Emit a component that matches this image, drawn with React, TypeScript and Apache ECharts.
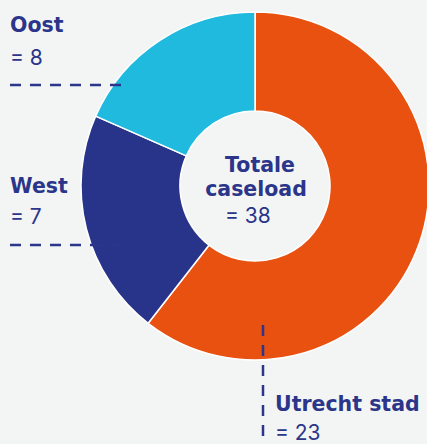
import React, { useEffect, useRef } from "react";
import * as echarts from "echarts";

// Slices as drawn in the reference, clockwise from 12 o'clock
const sliceNames = ["Utrecht stad", "West", "Oost"];
const sliceValues = [23, 8, 7];
const sliceColors = ["#e95110", "#28348a", "#1fbade"];

// Labels as printed in the reference
const labelNames = ["Oost", "West", "Utrecht stad"];
const labelValues = [8, 7, 23];
const totalTitle = ["Totale", "caseload"];
const totalValue = 38;

const NAVY = "#2b358a";
const BG = "#f3f5f4";
const BOLD_FONT = "700 20.5px 'DejaVu Sans', sans-serif";
const REG_FONT = "400 21px Inter, 'Noto Sans', sans-serif";

export default function App() {
  const ref = useRef<HTMLDivElement>(null);
  useEffect(() => {
    document.body.style.margin = "0";
    document.body.style.background = BG;
    const chart = echarts.init(ref.current!, null, { renderer: "svg" });
    const bold = (text: string, x: number, y: number, align = "left") => ({
      type: "text",
      x,
      y,
      z: 10,
      style: { text, fill: NAVY, font: BOLD_FONT, align, verticalAlign: "middle" },
    });
    const reg = (text: string, x: number, y: number, align = "left") => ({
      type: "text",
      x,
      y,
      z: 10,
      style: { text, fill: NAVY, font: REG_FONT, align, verticalAlign: "middle" },
    });
    const dash = (x1: number, y1: number, x2: number, y2: number) => ({
      type: "line",
      z: 10,
      shape: { x1, y1, x2, y2 },
      style: { stroke: NAVY, lineWidth: 2.5, lineDash: [11, 9] },
    });
    chart.setOption({
      animation: false,
      backgroundColor: BG,
      series: [
        {
          type: "pie",
          center: [255, 186],
          radius: [75, 174],
          startAngle: 90,
          clockwise: true,
          label: { show: false },
          labelLine: { show: false },
          emphasis: { disabled: true },
          silent: true,
          itemStyle: { borderColor: "#ffffff", borderWidth: 1.5 },
          data: sliceNames.map((n, i) => ({
            name: n,
            value: sliceValues[i],
            itemStyle: { color: sliceColors[i] },
          })),
        },
      ],
      graphic: [
        bold(labelNames[0], 10, 25),
        reg(`= ${labelValues[0]}`, 10, 57),
        dash(10, 85, 128, 85),
        bold(labelNames[1], 10, 186),
        reg(`= ${labelValues[1]}`, 10, 216),
        dash(10, 245, 128, 245),
        dash(263, 325, 263, 444),
        bold(labelNames[2], 275, 404),
        reg(`= ${labelValues[2]}`, 275, 432),
        bold(totalTitle[0], 260, 165, "center"),
        bold(totalTitle[1], 256, 189, "center"),
        reg(`= ${totalValue}`, 225, 215),
      ],
    });
    return () => chart.dispose();
  }, []);
  return (
    <div
      ref={ref}
      style={{ position: "fixed", left: 0, top: 0, width: 427, height: 444, background: BG }}
    />
  );
}
